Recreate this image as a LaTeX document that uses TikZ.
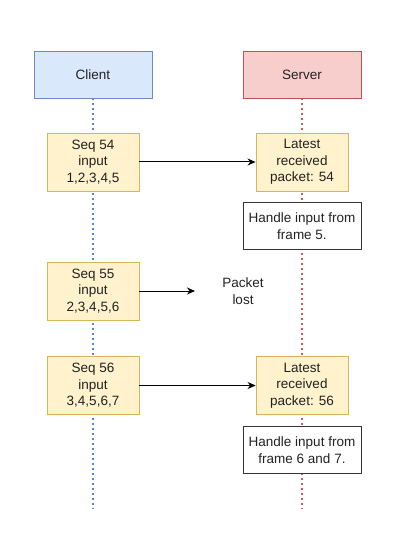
\documentclass[tikz,border=0pt]{standalone}
\usepackage{fontspec}
\setmainfont{Liberation Sans}
\usetikzlibrary{arrows.meta}
\definecolor{cfill}{HTML}{DAE8FC}
\definecolor{cdraw}{HTML}{6C8EBF}
\definecolor{cline}{HTML}{5A88D0}
\definecolor{sfill}{HTML}{F8CECC}
\definecolor{sdraw}{HTML}{B85450}
\definecolor{sline}{HTML}{D0585A}
\definecolor{yfill}{HTML}{FFF2CC}
\definecolor{ydraw}{HTML}{D6B656}
\definecolor{txt}{HTML}{222222}
\tikzset{
  base/.style={rectangle, minimum width=118pt, minimum height=47pt, align=center, font=\fontsize{13.5}{16.5}\selectfont, text=txt, line width=0.9pt, inner sep=0pt},
  clientbox/.style={base, fill=cfill, draw=cdraw},
  serverbox/.style={base, fill=sfill, draw=sdraw},
  msgbox/.style={base, fill=yfill, draw=ydraw, minimum width=92pt, minimum height=58pt},
  notebox/.style={base, fill=white, draw=black!80},
  lifeline/.style={line width=1.1pt, dash pattern=on 2pt off 3pt},
  msg/.style={-{Stealth[length=8pt,width=7pt]}, line width=1pt},
}
\begin{document}
\begin{tikzpicture}[x=1pt,y=-1pt]
\useasboundingbox (0,0) rectangle (405,537);
\coordinate (ctop) at (93,98);
\coordinate (stop) at (302,98);
\coordinate (cend) at (93,509);
\coordinate (send) at (302,509);
\draw[lifeline, color=cline] (ctop) -- (cend);
\draw[lifeline, color=sline] (stop) -- (send);
\node[clientbox] (client) at (93,74.5) {Client};
\node[serverbox] (server) at (302,74.5) {Server};
\node[msgbox] (s54) at (93,162) {Seq 54\\input\\1,2,3,4,5};
\node[msgbox] (r54) at (302,162) {Latest\\received\\packet: 54};
\node[notebox] (h5) at (302,226) {Handle input from\\frame 5.};
\node[msgbox] (s55) at (93,291) {Seq 55\\input\\2,3,4,5,6};
\coordinate (lostend) at (195,291);
\node[font=\fontsize{13.5}{16.5}\selectfont, text=txt, align=center] (lost) at (243,291) {Packet\\lost};
\node[msgbox] (s56) at (93,385.5) {Seq 56\\input\\3,4,5,6,7};
\node[msgbox] (r56) at (302,385.5) {Latest\\received\\packet: 56};
\node[notebox] (h67) at (302,450) {Handle input from\\frame 6 and 7.};
\draw[msg] (s54.east) -- (r54.west);
\draw[msg] (s55.east) -- (lostend);
\draw[msg] (s56.east) -- (r56.west);
\end{tikzpicture}
\end{document}
